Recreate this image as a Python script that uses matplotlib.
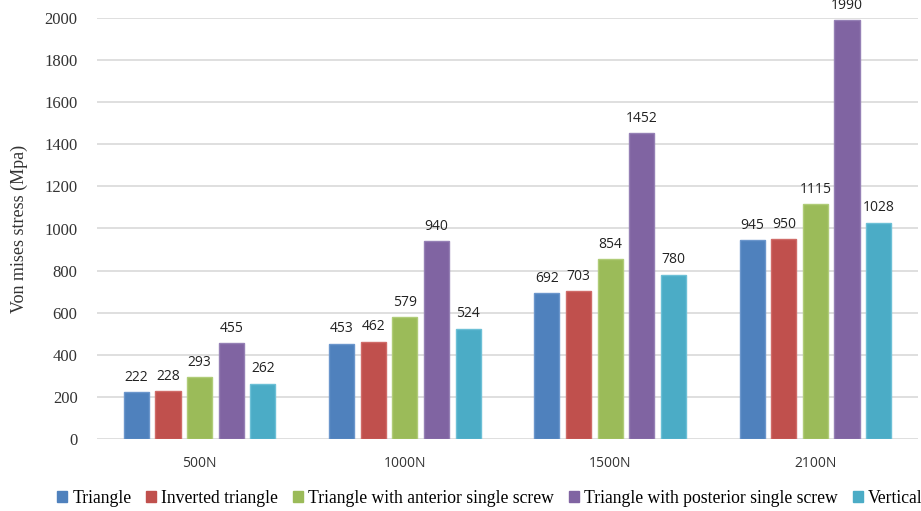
import numpy as np
import matplotlib.pyplot as plt
from matplotlib.patches import Patch

# loads and von Mises stress per fixation type
loads = ['500N', '1000N', '1500N', '2100N']
series = ['Triangle', 'Inverted triangle', 'Triangle with anterior single screw',
          'Triangle with posterior single screw', 'Vertical']
triangle = [222, 453, 692, 945]
inverted = [228, 462, 703, 950]
anterior = [293, 579, 854, 1115]
posterior = [455, 940, 1452, 1990]
vertical = [262, 524, 780, 1028]
values = [triangle, inverted, anterior, posterior, vertical]
colors = ['#4F81BD', '#C0504D', '#9BBB59', '#8064A2', '#4BACC6']
edges = ['#6B96CC', '#D06B68', '#B0CC78', '#9580B5', '#6CC0D6']

fig = plt.figure(figsize=(9.21, 5.11), dpi=100)
ax = fig.add_axes([97 / 921, 1 - 439 / 511, 821 / 921, 421 / 511])

x = np.arange(len(loads))
width = 0.122
step = 0.154
for i, (vals, c, ec) in enumerate(zip(values, colors, edges)):
    pos = x + (i - 2) * step
    bars = ax.bar(pos, vals, width, color=c, edgecolor=ec, linewidth=1, zorder=3)
    for b, v in zip(bars, vals):
        ax.text(b.get_x() + b.get_width() / 2, v + 35, str(v), ha='center', va='bottom',
                fontsize=10, family='Open Sans', color='#222222', clip_on=False)

ax.set_xlim(-0.5, 3.5)
ax.set_ylim(0, 2000)
ax.set_yticks(range(0, 2001, 200))
ax.set_xticks(x)
ax.set_xticklabels(loads, family='Open Sans', fontsize=10, color='#333333')
for lbl in ax.get_yticklabels():
    lbl.set_family('Liberation Serif')
    lbl.set_fontsize(12)
    lbl.set_color('#333333')
ax.tick_params(axis='both', length=0)
ax.tick_params(axis='x', pad=12)
ax.tick_params(axis='y', pad=14)
ax.grid(axis='y', color='#D9D9D9', linewidth=1.2, zorder=0)
for s in ax.spines.values():
    s.set_visible(False)

ax.set_ylabel('Von mises stress (Mpa)', family='Liberation Serif', fontsize=13,
              color='#333333', labelpad=12)

handles = [Patch(facecolor=c, edgecolor=c) for c in colors]
fig.legend(handles, series, loc='center', bbox_to_anchor=(0.532, 0.025), ncol=5,
           frameon=False, prop={'family': 'Liberation Serif', 'size': 12.7},
           handlelength=0.55, handleheight=0.55, handletextpad=0.3, columnspacing=0.85)

fig.savefig('out.png', dpi=100)
